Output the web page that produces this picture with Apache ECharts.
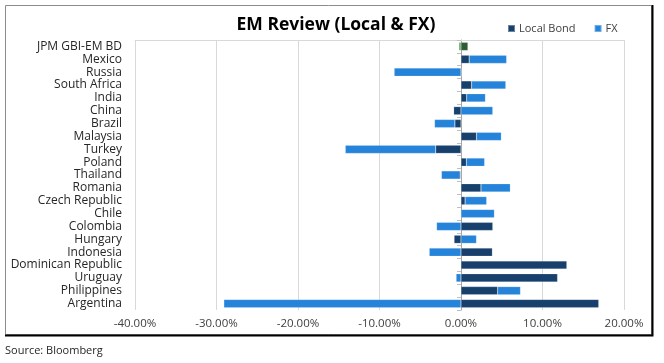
<!DOCTYPE html>
<html>
<head>
<meta charset="utf-8">
<script src="https://cdn.jsdelivr.net/npm/echarts@6/dist/echarts.min.js"></script>
<style>
html,body{margin:0;padding:0;background:#fff;}
#c{width:664px;height:363px;}
</style>
</head>
<body>
<div id="c"></div>
<script>
const categories = ["JPM GBI-EM BD","Mexico","Russia","South Africa","India","China","Brazil","Malaysia","Turkey","Poland","Thailand","Romania","Czech Republic","Chile","Colombia","Hungary","Indonesia","Dominican Republic","Uruguay","Philippines","Argentina"];
const localBond = [0.85, 1.0, 0.0, 1.3, 0.7, -0.9, -0.75, 1.9, -3.1, 0.65, -0.1, 2.45, 0.5, 0.0, 3.9, -0.85, 3.85, 13.0, 11.85, 4.5, 16.9];
const fx = [-0.25, 4.6, -8.2, 4.2, 2.3, 3.9, -2.5, 3.05, -11.1, 2.25, -2.3, 3.6, 2.65, 4.1, -3.0, 1.9, -3.9, 0.0, -0.6, 2.8, -29.1];
const xTicks = [-40, -30, -20, -10, 0, 10, 20];

const FONT = '"Open Sans", sans-serif';
const cLocal = '#17406D', cFx = '#2583DA';
const hlLocal = '#2F5B35', hlFx = '#4A9A4E';

const localData = localBond.map((v, i) => i === 0 ? {value: v, itemStyle: {color: hlLocal}} : v);
const fxData = fx.map((v, i) => i === 0 ? {value: v, itemStyle: {color: hlFx}} : v);

const chart = echarts.init(document.getElementById('c'), null, {renderer: 'canvas'});
chart.setOption({
  animation: false,
  backgroundColor: '#fff',
  title: {
    text: 'EM Review (Local & FX)',
    left: 331, top: 11, textAlign: 'center',
    textStyle: {fontFamily: FONT, fontWeight: 'bold', fontSize: 17.5, color: '#000'}
  },
  legend: {
    left: 502, top: 18,
    itemWidth: 7, itemHeight: 7, itemGap: 18,
    icon: 'rect',
    textStyle: {fontFamily: FONT, fontSize: 11, color: '#404040', padding: [0,0,0,-1]},
    data: ['Local Bond', 'FX']
  },
  grid: {left: 135, right: 40, top: 40, bottom: 53, containLabel: false},
  xAxis: [{
    type: 'value', min: xTicks[0], max: xTicks[xTicks.length-1], interval: 10,
    axisLine: {show: false}, axisTick: {show: false},
    axisLabel: {fontFamily: FONT, fontSize: 11.5, color: '#404040', margin: 8,
      formatter: v => v.toFixed(2) + '%'},
    splitLine: {lineStyle: {color: '#d9d9d9', width: 1}}
  }, {
    type: 'value', position: 'top', min: xTicks[0], max: xTicks[xTicks.length-1], interval: 10,
    axisLine: {show: true, onZero: false, lineStyle: {color: '#d9d9d9'}},
    axisTick: {show: false}, axisLabel: {show: false}, splitLine: {show: false}
  }],
  yAxis: [{
    type: 'category', data: categories, inverse: true, position: 'left',
    axisLine: {show: false, onZero: false}, axisTick: {show: false},
    axisLabel: {fontFamily: FONT, fontSize: 12, color: '#262626', margin: 13, interval: 0}
  }, {
    type: 'category', data: categories, inverse: true, position: 'left',
    axisLine: {show: true, onZero: true, lineStyle: {color: '#a6a6a6'}},
    axisTick: {show: true, length: 4, interval: 0, lineStyle: {color: '#bfbfbf'}},
    axisLabel: {show: false}
  }],
  series: [{
    name: 'Local Bond', type: 'bar', stack: 'tot', data: localData,
    barWidth: '64%', itemStyle: {color: cLocal, borderColor: 'rgba(255,255,255,0.35)', borderWidth: 0.5}
  }, {
    name: 'FX', type: 'bar', stack: 'tot', data: fxData,
    barWidth: '64%', itemStyle: {color: cFx, borderColor: 'rgba(255,255,255,0.35)', borderWidth: 0.5}
  }],
  graphic: [
    {type: 'rect', shape: {x: 5.5, y: 5.5, width: 646, height: 329}, style: {fill: 'none', stroke: '#8c8c8c', lineWidth: 1}, z: 100},
    {type: 'polyline', shape: {points: [[652.5, 5], [652.5, 335.5], [5, 335.5]]}, style: {stroke: '#000', lineWidth: 2, fill: 'none'}, z: 101},
    {type: 'text', left: 5, top: 345, style: {text: 'Source: Bloomberg', font: '11px ' + FONT, fill: '#262626'}}
  ]
});
</script>
</body>
</html>
